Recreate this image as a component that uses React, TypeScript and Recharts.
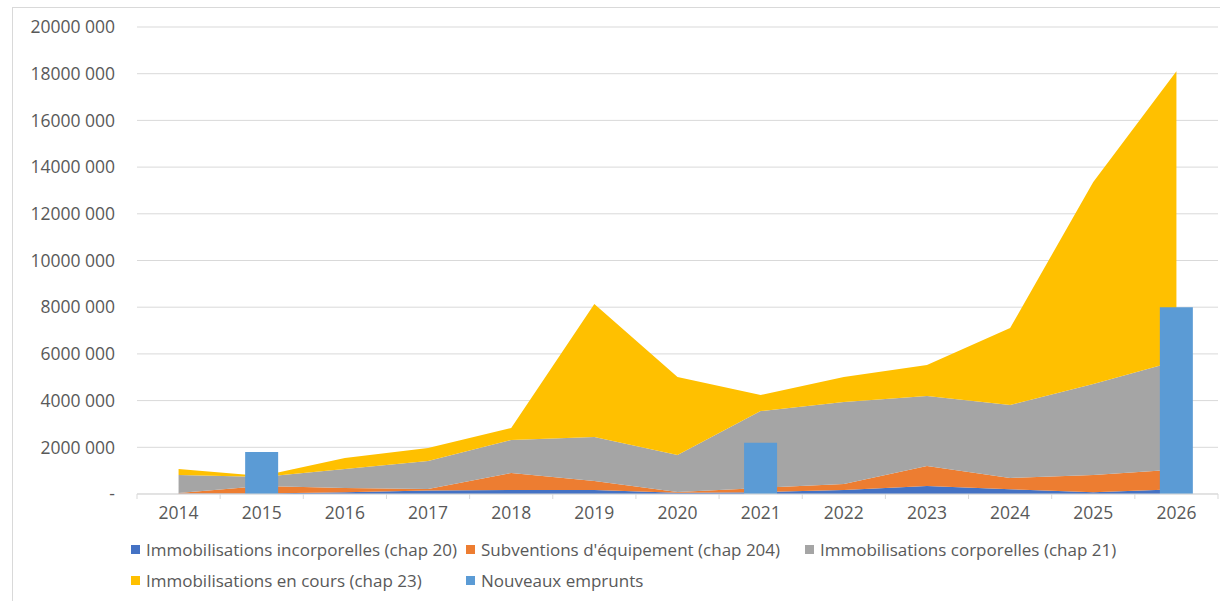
import React from 'react'
import { ComposedChart, Area, Bar, XAxis, YAxis, CartesianGrid, Legend } from 'recharts'

const YEARS = ['2014', '2015', '2016', '2017', '2018', '2019', '2020', '2021', '2022', '2023', '2024', '2025', '2026']

// montants en euros
const INCORPORELLES = [20000, 20000, 80000, 150000, 170000, 170000, 50000, 80000, 170000, 340000, 200000, 80000, 200000]
const SUBVENTIONS = [20000, 320000, 180000, 60000, 730000, 390000, 40000, 180000, 260000, 860000, 490000, 730000, 850000]
const CORPORELLES = [770000, 390000, 810000, 1200000, 1410000, 1880000, 1580000, 3290000, 3510000, 3000000, 3120000, 3900000, 4650000]
const EN_COURS = [260000, 40000, 470000, 560000, 520000, 5700000, 3340000, 690000, 1070000, 1320000, 3300000, 8650000, 12400000]
const EMPRUNTS = [null, 1800000, null, null, null, null, null, 2200000, null, null, null, null, 8000000]

const Y_TICKS = [0, 2000000, 4000000, 6000000, 8000000, 10000000, 12000000, 14000000, 16000000, 18000000, 20000000]

const SERIES = [
  { key: 'incorporelles', name: 'Immobilisations incorporelles (chap 20)', color: '#4472C4' },
  { key: 'subventions', name: "Subventions d'équipement (chap 204)", color: '#ED7D31' },
  { key: 'corporelles', name: 'Immobilisations corporelles (chap 21)', color: '#A5A5A5' },
  { key: 'enCours', name: 'Immobilisations en cours (chap 23)', color: '#FFC000' },
]
const EMPRUNTS_NAME = 'Nouveaux emprunts'
const EMPRUNTS_COLOR = '#5B9BD5'
const LEGEND_ORDER = [...SERIES.map((s) => s.name), EMPRUNTS_NAME]

const data = YEARS.map((year, i) => ({
  year,
  incorporelles: INCORPORELLES[i],
  subventions: SUBVENTIONS[i],
  corporelles: CORPORELLES[i],
  enCours: EN_COURS[i],
  emprunts: EMPRUNTS[i],
}))

const FONT = '"Open Sans", sans-serif'
const TEXT = '#595959'
const GRID = '#d9d9d9'

const WIDTH = 1220
const HEIGHT = 601
const PLOT_LEFT = 137
const MARGIN_RIGHT = 2
const BAND = (WIDTH - PLOT_LEFT - MARGIN_RIGHT) / YEARS.length

function formatEuro(v: number) {
  if (v === 0) return '-'
  const thousands = Math.floor(v / 1000)
  const rest = String(v % 1000).padStart(3, '0')
  return `${thousands} ${rest}`
}

function YearTick(props: any) {
  const { x, y, payload, index } = props
  const left = x - BAND / 2
  return (
    <g>
      <line x1={left} y1={y} x2={left} y2={y + 5} stroke={GRID} />
      {index === YEARS.length - 1 && <line x1={x + BAND / 2} y1={y} x2={x + BAND / 2} y2={y + 5} stroke={GRID} />}
      <text x={x} y={y + 25} textAnchor="middle" fill={TEXT} fontSize={17.5} fontFamily={FONT}>
        {payload.value}
      </text>
    </g>
  )
}

function LegendGrid({ payload }: any) {
  const items = [...(payload ?? [])].sort(
    (a: any, b: any) => LEGEND_ORDER.indexOf(a.value) - LEGEND_ORDER.indexOf(b.value)
  )
  return (
    <div
      style={{
        display: 'grid',
        gridTemplateColumns: '335px 339px 420px',
        gridAutoRows: 31,
        alignContent: 'start',
        height: 70,
        paddingTop: 3,
        boxSizing: 'border-box',
        fontFamily: FONT,
        fontSize: 17,
        color: TEXT,
      }}
    >
      {items.map((item: any) => (
        <div key={item.value} style={{ display: 'flex', alignItems: 'center', height: 31, whiteSpace: 'nowrap' }}>
          <span style={{ width: 9, height: 9, background: item.color, marginRight: 6, flex: 'none' }} />
          {item.value}
        </div>
      ))}
    </div>
  )
}

export default function App() {
  return (
    <div style={{ position: 'fixed', left: 0, top: 0, width: WIDTH, height: HEIGHT, overflow: 'hidden', background: '#fff' }}>
      <div
        style={{
          position: 'absolute',
          left: 12,
          top: 7,
          width: 1300,
          height: 700,
          border: `1px solid ${GRID}`,
        }}
      />
      <div style={{ position: 'absolute', left: 0, top: 0 }}>
        <ComposedChart
          width={WIDTH}
          height={HEIGHT}
          data={data}
          margin={{ top: 27, right: MARGIN_RIGHT, bottom: 0, left: 0 }}
        >
          <CartesianGrid vertical={false} stroke={GRID} />
          <XAxis
            dataKey="year"
            height={37}
            axisLine={{ stroke: GRID }}
            tickLine={false}
            tickSize={0}
            tickMargin={0}
            interval={0}
            tick={<YearTick />}
          />
          <YAxis
            width={PLOT_LEFT}
            domain={[0, 20000000]}
            ticks={Y_TICKS}
            interval={0}
            axisLine={false}
            tickLine={false}
            tickSize={0}
            tickMargin={22}
            tickFormatter={formatEuro}
            tick={{ fill: TEXT, fontSize: 17.5, fontFamily: FONT }}
          />
          {SERIES.map((s) => (
            <Area
              key={s.key}
              type="linear"
              dataKey={s.key}
              name={s.name}
              stackId="invest"
              stroke="none"
              fill={s.color}
              fillOpacity={1}
              isAnimationActive={false}
            />
          ))}
          <Bar dataKey="emprunts" name={EMPRUNTS_NAME} fill={EMPRUNTS_COLOR} barSize={33} isAnimationActive={false} />
          <Legend
            verticalAlign="bottom"
            align="left"
            content={<LegendGrid />}
            wrapperStyle={{ left: 131, width: 1089, height: 70 }}
          />
        </ComposedChart>
      </div>
    </div>
  )
}
